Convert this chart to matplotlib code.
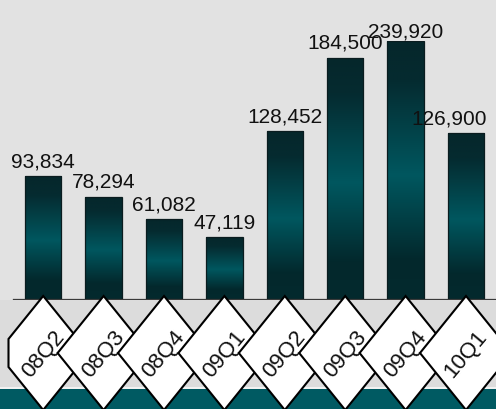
import numpy as np
import matplotlib
matplotlib.use("Agg")
import matplotlib.pyplot as plt
from matplotlib.patches import Rectangle, Polygon
from matplotlib.colors import to_rgb

quarters = ["08Q2", "08Q3", "08Q4", "09Q1", "09Q2", "09Q3", "09Q4", "10Q1"]
values = [93834, 78294, 61082, 47119, 128452, 184500, 239920, 126900]

W, H = 496, 410
ymax = 197500
bar_w = 0.6

plt.rcParams['font.family'] = ['Liberation Sans', 'DejaVu Sans']

fig = plt.figure(figsize=(W / 100, H / 100), dpi=100)
fig.patch.set_facecolor("#e2e2e2")

# main bar area: axis line at y=300px, top at y=42px
ax = fig.add_axes([13 / W, 110 / H, 483.2 / W, 258 / H])
ax.set_facecolor("none")
ax.set_xlim(-0.5, len(values) - 0.5)
ax.set_ylim(0, ymax)
for s in ["top", "left", "right"]:
    ax.spines[s].set_visible(False)
ax.spines["bottom"].set_color("#3a3a3a")
ax.spines["bottom"].set_linewidth(0.9)
ax.set_yticks([])
ax.set_xticks(np.arange(-0.5, len(values), 1.0))
ax.set_xticklabels([])
ax.tick_params(axis="x", direction="out", length=4.5, width=0.8, color="#3a3a3a")

# vertical gradient: dark top, teal middle, dark bottom (pos 0 = top)
stops = [0.0, 0.15, 0.52, 0.85, 1.0]
cols = ["#05272b", "#052b30", "#00575f", "#03282c", "#042a2e"]
t = np.linspace(0, 1, 256)
rgb = np.array([to_rgb(c) for c in cols])
grad = np.stack([np.interp(t, stops, rgb[:, k]) for k in range(3)], axis=-1)
grad = grad[:, None, :]

labels = []
for i, v in enumerate(values):
    top = min(v, ymax)
    rect = Rectangle((i - bar_w / 2, 0), bar_w, top, facecolor="none",
                     edgecolor="#0a1c1f", linewidth=0.9, zorder=3)
    ax.add_patch(rect)
    im = ax.imshow(grad, extent=(i - bar_w / 2, i + bar_w / 2, 0, top),
                   aspect="auto", origin="upper", zorder=2, interpolation="bilinear")
    im.set_clip_path(rect)
    off = 10 if v <= ymax else 4
    a = ax.annotate(f"{v:,}", xy=(i, top), xytext=(0, off), textcoords="offset pixels",
                    ha="center", va="baseline", fontsize=15, color="#111111",
                    annotation_clip=False, zorder=5)
    labels.append((a, off))

# keep labels inside the picture
fig.canvas.draw()
r = fig.canvas.get_renderer()
for a, off in labels:
    bb = a.get_window_extent(r)
    if bb.x1 > W - 9:
        a.xyann = (-(bb.x1 - (W - 9)), off)

# overlay in pixel coordinates for the decorations below the axis
ov = fig.add_axes([0, 0, 1, 1])
ov.set_xlim(0, W)
ov.set_ylim(H, 0)
ov.axis("off")
ov.set_facecolor("none")
ov.set_zorder(ax.get_zorder() + 1)

ov.add_patch(Rectangle((0, 301), W, 88, facecolor="#dcdcdc", edgecolor="none", zorder=0))
ov.add_patch(Rectangle((0, 388), W, 2, facecolor="#f2f2f2", edgecolor="none", zorder=1))
ov.add_patch(Rectangle((0, 390), W, 20, facecolor="#005a62", edgecolor="none", zorder=1))

cy, hh, hw = 354, 57, 46
xl = 8.5
for i, q in enumerate(quarters):
    cx = ax.transData.transform((i, 0))[0]
    pts = [(cx, cy - hh), (cx + hw, cy), (cx, cy + hh)]
    if cx - hw < xl:
        d = (xl - (cx - hw)) * hh / hw
        pts += [(xl, cy + d), (xl, cy - d)]
    else:
        pts.append((cx - hw, cy))
    ov.add_patch(Polygon(pts, closed=True, facecolor="white", edgecolor="black",
                         linewidth=1.5, zorder=3 + i))
    ov.text(cx, cy, q, rotation=50, rotation_mode="anchor", ha="center", va="center",
            fontsize=16, color="#111111", zorder=3 + i)

fig.savefig("out.png", dpi=100, facecolor=fig.get_facecolor())
